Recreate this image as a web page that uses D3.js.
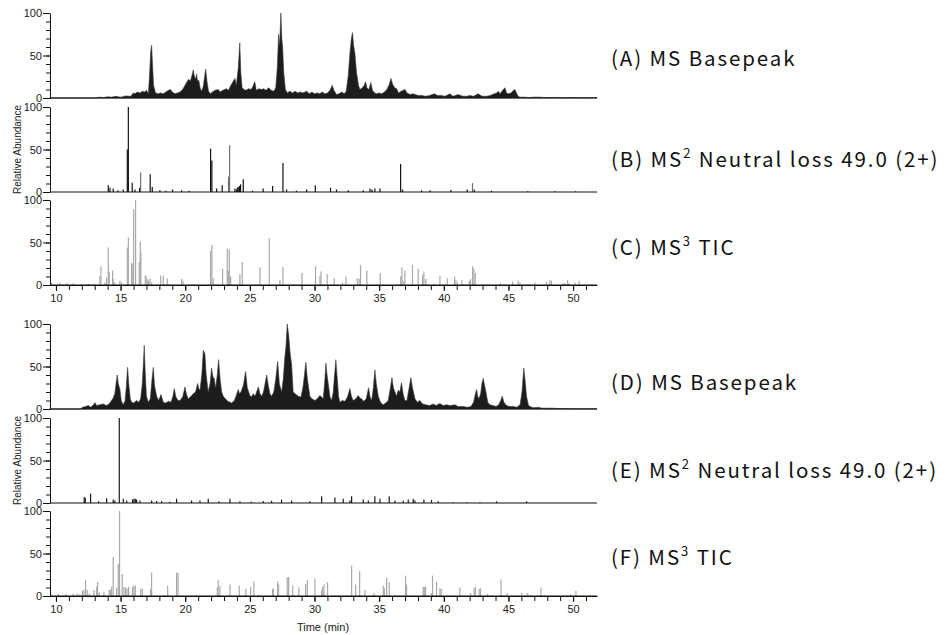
<!DOCTYPE html>
<html>
<head>
<meta charset="utf-8">
<script src="https://cdn.jsdelivr.net/npm/d3@7"></script>
<style>
body { margin: 0; background: #fff; }
svg { display: block; }
</style>
</head>
<body>
<div id="chart"></div>
<script>
// ---- data (time in min, relative abundance in %) ----
const basepeakA = [
  [9.5,0],[13.0,0],[13.4,1],[13.7,0.5],[14.0,1.5],[14.3,1],[14.6,2],[15.0,1],[15.4,2.5],[15.8,2],
  [15.98,6],[16.1,5],[16.3,7],[16.5,6],[16.7,8],[16.85,7],[17.01,9],[17.15,5],[17.25,30],[17.33,55],
  [17.4,62],[17.47,40],[17.55,15],[17.7,6],[17.9,5],[18.1,6],[18.3,5],[18.5,7],[18.7,9],[18.85,10],
  [19.0,7],[19.2,5],[19.4,6],[19.6,7],[19.8,10],[19.95,14],[20.1,18],[20.25,22],[20.4,20],[20.55,28],
  [20.62,33],[20.7,26],[20.8,22],[20.88,28],[20.95,20],[21.05,21],[21.15,12],[21.27,8],[21.4,14],[21.5,25],
  [21.58,34],[21.68,20],[21.8,8],[21.95,5],[22.1,7],[22.3,9],[22.55,10],[22.7,7],[22.9,9],[23.05,10],
  [23.2,11],[23.35,9],[23.5,14],[23.65,18],[23.84,23],[23.95,15],[24.1,35],[24.22,65],[24.3,30],[24.4,12],
  [24.55,10],[24.7,9],[24.9,11],[25.1,10],[25.25,14],[25.38,19],[25.5,9],[25.7,11],[25.9,10],[26.05,11],
  [26.25,9],[26.45,12],[26.65,9],[26.85,8],[27.0,12],[27.12,35],[27.22,75],[27.3,62],[27.4,100],[27.47,70],
  [27.53,61],[27.62,30],[27.75,10],[27.9,6],[28.1,8],[28.3,6],[28.5,8],[28.7,6],[28.9,7],[29.1,6],
  [29.39,8],[29.6,5],[29.8,7],[30.0,5],[30.2,6],[30.4,5],[30.6,7],[30.8,5],[31.0,6],[31.2,9],
  [31.37,15],[31.5,9],[31.7,4],[31.9,5],[32.1,7],[32.3,5],[32.45,8],[32.6,25],[32.74,53],[32.85,70],
  [32.94,77],[33.02,62],[33.12,53],[33.25,30],[33.4,15],[33.51,10],[33.7,12],[33.85,15],[33.95,19],[34.05,12],
  [34.2,10],[34.36,18],[34.48,9],[34.65,6],[34.8,5],[35.0,6],[35.2,5],[35.4,7],[35.6,10],[35.78,16],
  [35.91,23],[36.05,16],[36.2,12],[36.35,11],[36.5,6],[36.7,8],[37.0,10],[37.15,6],[37.4,4],[37.6,5],
  [37.8,4],[38.0,3],[38.3,3],[38.6,2],[38.9,3],[39.1,4],[39.3,5],[39.5,3],[39.8,3],[40.1,2],
  [40.47,5],[40.7,2],[40.9,3],[41.1,4],[41.3,3],[41.5,2],[41.8,2],[42.0,3],[42.3,2],[42.66,5],
  [42.85,3],[43.0,2],[43.3,2],[43.6,3],[43.9,5],[44.1,6],[44.21,8],[44.35,5],[44.55,9],[44.73,12],
  [44.85,6],[45.0,5],[45.2,6],[45.4,9],[45.5,10],[45.62,6],[45.75,2],[45.89,1],[46.2,1],[46.6,0.5],
  [47.0,1],[47.4,1],[47.8,0.5],[48.3,0.5],[48.8,0.7],[49.3,0.4],[50.0,0.5],[50.6,0.3],[51.2,0.3],[51.85,0.3]
];

const neutralLossB = [
  [14.05,8],[14.18,5],[14.43,4],[14.8,2],[15.21,3],[15.52,50],[15.6,100],[15.9,11],[16.11,3],[16.47,5],
  [17.29,21],[17.45,6],[18.04,2],[18.5,1.5],[19.02,3],[19.72,2],[20.3,1.5],[21.96,51],[22.06,37],[22.43,4],
  [22.86,8],[23.84,4],[23.95,3],[24.03,5],[24.1,6],[24.2,7],[24.28,9],[24.49,15],[25.2,1.5],[26.03,4],
  [26.76,7],[27.56,34],[27.84,3],[28.6,1.5],[29.39,3],[30.06,8],[31.24,5],[31.7,3],[32.61,2],[33.77,2],
  [34.29,4],[34.45,3],[34.67,4],[35.06,4],[36.66,33],[36.81,3],[38.28,2],[38.93,2],[40.55,2.5],[41.81,3],
  [42.35,3],[43.69,1.5],[46.5,1],[48.6,1],[50.2,1]
];
// the few lighter sticks of trace B
const neutralLossBGrey = [[16.55,23],[23.35,18],[23.43,55],[42.22,10.5]];

const ms3C = [
  [9.67,2],[10.31,2],[10.82,2],[11.34,2],[11.98,1],[12.5,1.5],[13.02,1.5],[13.4,10.6],[13.48,22],[13.79,3],
  [13.92,9],[14.05,44],[14.12,16],[14.38,17],[14.43,7],[14.56,3],[14.95,5],[15.08,3],[15.52,44],[15.6,56],
  [15.85,26],[15.9,24],[16.01,89],[16.16,100],[16.44,27],[16.52,51],[16.57,39],[16.91,11],[16.96,11],[17.06,7],
  [17.17,5],[17.27,8],[17.4,3],[18.1,11],[18.3,11],[18.61,8],[19.72,7],[19.82,5],[21.96,40],[22.06,47],
  [22.17,8],[22.89,19],[23.25,43],[23.33,17],[23.41,42],[23.51,10],[24.23,13],[24.41,27],[25.78,21],[26.5,55],
  [27.32,6],[27.56,21],[29.03,14],[30.08,22],[30.42,11],[30.5,16],[30.98,13],[31.53,8],[32.17,3],[32.43,10],
  [33.31,8],[33.46,7],[33.56,23.5],[34.05,17],[35.08,14],[36.66,10],[36.76,21],[36.86,5],[36.99,17],[37.58,23.5],
  [38.02,19],[38.36,12],[38.46,16],[38.62,7],[39.23,1.5],[39.7,11],[40.27,8],[40.83,10],[40.94,6],[41.04,3],
  [41.4,6],[41.97,5],[42.07,7],[42.23,22],[42.33,19],[42.43,14],[44.39,2],[45.32,4],[45.76,5],[45.89,3],
  [47.05,3],[47.95,4],[48.2,6],[48.33,5],[49.23,2],[49.36,2],[49.57,6],[49.67,2.5],[50.14,3],[50.47,5]
];

const basepeakD = [
  [9.5,0],[11.9,0],[12.05,2],[12.3,3],[12.5,4],[12.7,2],[12.9,5],[13.02,7.5],[13.15,4],[13.4,5],
  [13.66,6],[13.9,4],[14.1,6],[14.3,10],[14.43,13],[14.55,18],[14.65,30],[14.74,40],[14.82,30],[14.95,23],
  [15.05,10],[15.2,5],[15.35,10],[15.45,28],[15.54,49],[15.63,30],[15.75,12],[15.85,8],[16.0,7],[16.24,10],
  [16.4,8],[16.55,12],[16.68,30],[16.75,50],[16.83,75],[16.9,45],[17.0,15],[17.14,8],[17.3,12],[17.43,35],
  [17.53,49],[17.62,28],[17.79,15],[17.95,10],[18.12,17],[18.3,8],[18.5,7],[18.7,9],[18.9,8],[19.05,15],
  [19.15,24],[19.28,14],[19.45,10],[19.59,10],[19.8,14],[19.98,26],[20.1,17],[20.23,12],[20.4,14],[20.62,18],
  [20.8,20],[20.96,30],[21.05,24],[21.14,22],[21.28,40],[21.4,69],[21.52,65],[21.62,40],[21.78,20],[21.92,30],
  [22.04,48],[22.14,38],[22.24,36],[22.35,25],[22.48,40],[22.58,58],[22.7,35],[22.82,20],[22.94,15],[23.1,12],
  [23.3,9],[23.59,7],[23.8,10],[23.95,16],[24.1,23],[24.2,18],[24.31,20],[24.5,28],[24.67,44],[24.8,25],
  [25.0,16],[25.12,14],[25.26,18],[25.4,15],[25.52,20],[25.65,26],[25.78,18],[25.91,15],[26.05,20],[26.18,30],
  [26.3,40],[26.42,28],[26.55,18],[26.68,15],[26.85,20],[27.0,35],[27.15,56],[27.28,30],[27.45,20],[27.58,35],
  [27.71,62],[27.8,75],[27.89,100],[28.0,87],[28.12,65],[28.23,52],[28.35,20],[28.5,18],[28.74,15],[28.95,14],
  [29.1,25],[29.22,40],[29.33,55],[29.45,35],[29.64,15],[29.8,12],[30.03,10],[30.2,12],[30.42,16],[30.55,14],
  [30.67,12],[30.78,30],[30.88,54],[30.97,40],[31.06,30],[31.2,14],[31.32,10],[31.45,20],[31.55,40],[31.65,58],
  [31.75,38],[31.86,15],[31.96,8],[32.15,10],[32.35,9],[32.55,14],[32.74,24],[32.85,15],[32.99,10],[33.2,12],
  [33.38,16],[33.5,13],[33.64,12],[33.8,9],[34.0,12],[34.18,25],[34.3,14],[34.42,10],[34.55,25],[34.67,46],
  [34.78,30],[34.93,15],[35.1,8],[35.31,5],[35.5,7],[35.7,10],[35.87,25],[35.99,37],[36.1,25],[36.22,20],
  [36.35,15],[36.47,22],[36.6,20],[36.73,31],[36.85,18],[36.99,10],[37.15,10],[37.32,25],[37.45,37],[37.58,25],
  [37.77,12],[37.95,8],[38.15,10],[38.35,6],[38.6,5],[38.9,4],[39.18,6],[39.4,4],[39.7,6.5],[39.95,4],
  [40.2,5],[40.5,4],[40.86,5],[41.1,3],[41.5,3],[41.8,2],[42.1,3],[42.3,8],[42.45,18],[42.54,23],
  [42.62,15],[42.71,12],[42.85,18],[42.95,30],[43.05,36],[43.15,28],[43.26,20],[43.4,8],[43.57,5],[43.8,4],
  [44.05,3],[44.25,5],[44.4,10],[44.52,15],[44.65,8],[44.85,4],[45.1,3],[45.4,3],[45.65,2],[45.9,5],
  [46.05,20],[46.12,35],[46.19,48],[46.28,35],[46.4,15],[46.55,4],[46.8,2],[47.0,1.5],[47.3,2],[47.6,1],
  [48.0,1],[48.4,1],[48.8,0.5],[49.3,0.5],[50.0,0.3],[50.8,0.3],[51.85,0.3]
];

const neutralLossE = [
  [12.19,7],[12.27,6],[12.68,11],[13.3,2],[13.92,5.5],[14.43,4],[14.56,3],[14.9,100],[15.21,5],[15.47,3],
  [15.93,4],[16.03,5],[16.14,5],[16.24,4],[16.5,3],[17.4,3],[17.79,2.5],[18.17,2.5],[18.8,1.5],[19.33,5],
  [20.49,3],[21.14,3],[21.78,5],[22.6,2],[23.46,5],[24.23,2],[25.1,1.5],[26.03,2.5],[26.68,2.5],[27.45,4],
  [28.23,3],[29.64,2],[30.55,8],[31.58,6.5],[32.22,5],[32.74,3],[32.87,8],[33.77,4],[34.16,3],[34.67,8],
  [35.06,5],[35.78,8],[36.22,3],[36.86,3],[37.25,4],[37.64,5],[37.77,3],[38.46,4],[39.05,3.5],[39.57,2],
  [40.73,1],[41.76,1],[42.79,1],[44.08,2],[46.4,2]
];

const ms3F = [
  [9.59,3],[10.18,2.5],[10.77,2.5],[11.34,3],[11.65,3],[11.86,2],[12.06,6],[12.17,7.5],[12.29,19],[12.42,7.5],
  [12.58,3],[12.94,7],[13.15,11],[13.22,16.5],[13.35,4],[13.71,5],[14.12,7],[14.23,7.5],[14.31,11],[14.43,46],
  [14.69,10],[14.82,38],[14.92,100],[15.13,26],[15.26,10.5],[15.39,10],[15.49,9],[15.62,11],[15.93,10.5],[16.03,12.5],
  [16.14,12],[16.57,8.5],[16.68,8.5],[17.32,8.5],[17.4,27.7],[18.64,12],[19.33,27.5],[19.44,27.5],[22.48,10],[22.55,18.7],
  [22.68,12],[23.46,13.5],[24.18,12],[24.69,8.5],[25.06,11],[25.31,17.5],[26.76,8],[26.81,9],[27.15,17.5],[27.22,13.5],
  [27.89,22],[28.0,22.5],[28.31,12],[28.79,10],[29.31,14.5],[29.44,18.7],[30.03,21],[30.55,7],[30.63,10.5],[30.73,13.5],
  [31.01,16.5],[32.87,35.7],[33.18,13.5],[33.49,29],[33.9,7],[34.6,3.5],[35.32,12],[35.4,9],[35.58,21.7],[35.78,16.5],
  [37.04,24],[37.12,13.5],[38.41,11],[38.49,11],[38.59,11],[39.05,3.5],[39.13,24],[39.44,16.5],[39.7,9],[39.8,8.5],
  [41.24,10],[42.08,3.5],[42.34,9],[42.45,11],[42.73,8.5],[42.84,9],[43.38,2.5],[44.42,19.5],[44.91,3.5],[46.02,3.5],
  [46.49,3.5],[47.52,10],[49.81,2],[50.22,6]
];

const traceNames = [
  '(A) MS Basepeak', '(B) MS^2 Neutral loss 49.0 (2+)', '(C) MS^3 TIC',
  '(D) MS Basepeak', '(E) MS^2 Neutral loss 49.0 (2+)', '(F) MS^3 TIC'
];
const yTicksMajor = [0, 50, 100];
const yTicksMinor = d3.range(0, 101, 10);
const xTicksMajor = [10, 15, 20, 25, 30, 35, 40, 45, 50];
const xTicksMinor = d3.range(10, 52, 1);
const yTitle = 'Relative Abundance';
const xTitle = 'Time (min)';

// ---- layout ----
const W = 948, H = 635;
const panelH = 85;
const font = '"Liberation Sans", Arial, sans-serif';

const panels = [
  {y0: 98,  kind: 'area',  data: basepeakA,    color: '#1c1c1c', labelY: 57},
  {y0: 192, kind: 'stick', data: neutralLossB, color: '#111',    labelY: 158, grey: neutralLossBGrey, yTitle: true},
  {y0: 285, kind: 'stick', data: ms3C,         color: '#a9a9a9', labelY: 246, xAxis: true},
  {y0: 409, kind: 'area',  data: basepeakD,    color: '#1c1c1c', labelY: 381},
  {y0: 503, kind: 'stick', data: neutralLossE, color: '#1a1a1a', labelY: 469, yTitle: true},
  {y0: 596, kind: 'stick', data: ms3F,         color: '#a9a9a9', labelY: 556, xAxis: true, xTitle: true}
];

const svg = d3.select('#chart').append('svg')
  .attr('width', W)
  .attr('height', H)
  .style('font-family', font);

const x = d3.scaleLinear().domain([9.54, 51.85]).range([50, 597]);

panels.forEach((p, i) => {
  const y = d3.scaleLinear().domain([0, 100]).range([p.y0, p.y0 - panelH]);
  const g = svg.append('g');

  if (p.kind === 'area') {
    const area = d3.area()
      .x(d => x(d[0]))
      .y0(y(0))
      .y1(d => y(d[1]));
    g.append('path')
      .datum(p.data)
      .attr('d', area)
      .attr('fill', p.color)
      .attr('stroke', '#3a3a3a')
      .attr('stroke-width', 0.6);
  } else {
    g.selectAll('line.stick')
      .data(p.data)
      .join('line')
      .attr('class', 'stick')
      .attr('x1', d => x(d[0]))
      .attr('x2', d => x(d[0]))
      .attr('y1', y(0))
      .attr('y2', d => y(d[1]))
      .attr('stroke', p.color)
      .attr('stroke-width', 1.2);
    if (p.grey) {
      g.selectAll('line.grey')
        .data(p.grey)
        .join('line')
        .attr('class', 'grey')
        .attr('x1', d => x(d[0]))
        .attr('x2', d => x(d[0]))
        .attr('y1', y(0))
        .attr('y2', d => y(d[1]))
        .attr('stroke', '#707070')
        .attr('stroke-width', 1.2);
    }
  }

  // baseline
  g.append('line')
    .attr('x1', x.range()[0]).attr('x2', x.range()[1])
    .attr('y1', y(0)).attr('y2', y(0))
    .attr('stroke', '#111')
    .attr('stroke-width', 1);

  // y axis
  const yMinor = d3.axisLeft(y).tickValues(yTicksMinor).tickSize(4).tickSizeOuter(0).tickFormat('');
  const yMajor = d3.axisLeft(y).tickValues(yTicksMajor).tickSize(7).tickSizeOuter(0).tickPadding(1);
  const ga = g.append('g').attr('transform', `translate(${x.range()[0]},0)`);
  ga.append('g').call(yMinor);
  ga.append('g').call(yMajor).select('.domain').remove();
  ga.selectAll('text').attr('font-size', 11).attr('font-family', font).attr('fill', '#222');
  ga.selectAll('line, path').attr('stroke', '#111');

  if (p.xAxis) {
    const gx = g.append('g').attr('transform', `translate(0,${y(0)})`);
    gx.append('g').call(d3.axisBottom(x).tickValues(xTicksMinor).tickSize(5).tickSizeOuter(0).tickFormat(''));
    gx.append('g').call(d3.axisBottom(x).tickValues(xTicksMajor).tickSize(6).tickSizeOuter(0).tickPadding(3))
      .select('.domain').remove();
    gx.selectAll('text').attr('font-size', 11).attr('font-family', font).attr('fill', '#222');
    gx.selectAll('line, path').attr('stroke', '#111');
  }

  if (p.yTitle) {
    svg.append('text')
      .attr('transform', `translate(17,${p.y0 - panelH / 2}) rotate(-90)`)
      .attr('text-anchor', 'middle')
      .attr('dominant-baseline', 'central')
      .attr('font-size', 10)
      .attr('fill', '#222')
      .text(yTitle);
  }

  if (p.xTitle) {
    svg.append('text')
      .attr('x', 323)
      .attr('y', p.y0 + 31)
      .attr('text-anchor', 'middle')
      .attr('dominant-baseline', 'central')
      .attr('font-size', 11)
      .attr('fill', '#222')
      .text(xTitle);
  }

  // trace label on the right
  const lab = svg.append('text')
    .attr('x', 611)
    .attr('y', p.labelY)
    .attr('dominant-baseline', 'central')
    .attr('font-family', '"Noto Sans CJK JP", "Noto Sans", sans-serif')
    .attr('font-size', 20.5)
    .attr('letter-spacing', 1.9)
    .attr('fill', '#111');
  const parts = traceNames[i].split(/\^(\d)/);
  parts.forEach((s, k) => {
    if (k % 2 === 1) {
      lab.append('tspan').attr('dy', -6).attr('font-size', 13).text(s);
    } else if (k > 0) {
      lab.append('tspan').attr('dy', 6).text(s);
    } else {
      lab.append('tspan').text(s);
    }
  });
});
</script>
</body>
</html>
